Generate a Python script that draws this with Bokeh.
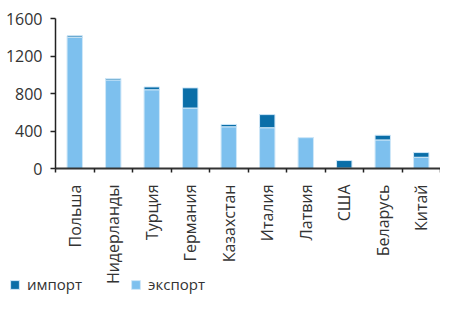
import numpy as np
from bokeh.plotting import figure
from bokeh.models import (ColumnDataSource, Range1d, FixedTicker, Legend, LegendItem)
from bokeh.embed import file_html
from bokeh.resources import INLINE

countries = ["Польша", "Нидерланды", "Турция", "Германия", "Казахстан",
             "Италия", "Латвия", "США", "Беларусь", "Китай"]
export_vals = [1400, 945, 840, 645, 445, 435, 330, 5, 305, 120]
import_vals = [15, 15, 30, 215, 25, 140, 0, 80, 50, 50]
y_ticks = [0, 400, 800, 1200, 1600]
series_labels = ["импорт", "экспорт"]

DARK = "#0A6EA8"
LIGHT = "#7DC0EE"
FONT = "Open Sans"
TXT = "#333333"

W, H = 440, 296
TOP = 18            # pixel row of the top of the value scale
ZERO_PX = 168       # pixel row of the zero line
AXIS_PX = 55        # pixel column of the value axis
n = len(countries)
y_max = y_ticks[-1]
upp = y_max / (ZERO_PX - TOP)          # value units per pixel
x_start = -AXIS_PX * n / (W - AXIS_PX)
y_start = -(H - ZERO_PX) * upp
y_end = y_max + TOP * upp

centers = [i + 0.5 for i in range(n)]
bounds = [float(i) for i in range(n + 1)]

src = ColumnDataSource(dict(x=centers, export=export_vals, imp=import_vals))

p = figure(width=W, height=H, output_backend="svg", toolbar_location=None,
           x_range=Range1d(x_start, n), y_range=Range1d(y_start, y_end),
           min_border_left=0, min_border_right=0, min_border_top=0,
           min_border_bottom=0)
p.outline_line_color = None
p.grid.visible = False
p.background_fill_color = "white"
p.border_fill_color = "white"

r = p.vbar_stack(["export", "imp"], x="x", width=0.4, source=src,
                 color=[LIGHT, DARK], line_color="#cfe7f8", line_width=1)

xaxis = p.xaxis[0]
xaxis.fixed_location = 0
xaxis.ticker = FixedTicker(ticks=centers, minor_ticks=bounds)
xaxis.bounds = (0, n)
xaxis.major_label_overrides = {c: nm for c, nm in zip(centers, countries)}
xaxis.major_tick_line_color = None
xaxis.major_tick_out = 4
xaxis.major_tick_in = 0
xaxis.minor_tick_out = 4
xaxis.minor_tick_in = 0
xaxis.minor_tick_line_color = "#222222"
xaxis.minor_tick_line_width = 1.5
xaxis.axis_line_color = "#333333"
xaxis.axis_line_width = 2
xaxis.major_label_orientation = np.pi / 2
xaxis.major_label_standoff = 12
xaxis.major_label_text_font = FONT
xaxis.major_label_text_font_size = "16px"
xaxis.major_label_text_color = TXT

yaxis = p.yaxis[0]
yaxis.fixed_location = 0
yaxis.bounds = (0, y_max)
yaxis.ticker = FixedTicker(ticks=y_ticks)
yaxis.minor_tick_line_color = None
yaxis.major_tick_out = 5
yaxis.major_tick_in = 0
yaxis.major_tick_line_color = "#222222"
yaxis.major_tick_line_width = 1.5
yaxis.axis_line_color = "#222222"
yaxis.axis_line_width = 1.5
yaxis.major_label_standoff = 8
yaxis.major_label_text_font = FONT
yaxis.major_label_text_font_size = "16px"
yaxis.major_label_text_color = TXT

legend = Legend(items=[LegendItem(label=series_labels[0], renderers=[r[1]]),
                       LegendItem(label=series_labels[1], renderers=[r[0]])],
                orientation="horizontal", location=(9, 2))
legend.padding = 0
legend.margin = 0
legend.spacing = 48
legend.glyph_width = 11
legend.glyph_height = 11
legend.label_height = 12
legend.label_standoff = 7
legend.label_text_font = FONT
legend.label_text_font_size = "15px"
legend.label_text_color = TXT
legend.border_line_color = None
legend.background_fill_alpha = 0
p.add_layout(legend, "center")

open("out.html", "w").write(file_html(p, INLINE))
